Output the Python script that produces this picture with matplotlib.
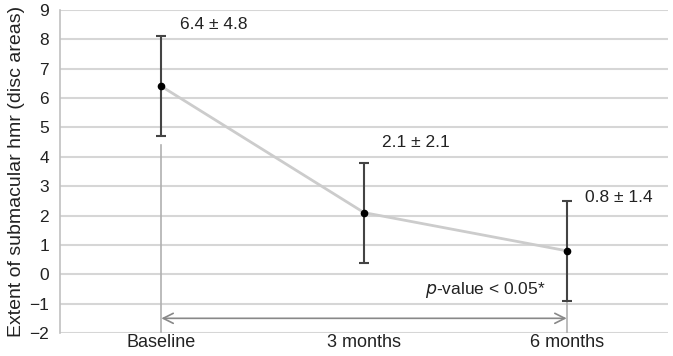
import numpy as np
import matplotlib
matplotlib.use('Agg')
import matplotlib.pyplot as plt

plt.rcParams['font.family'] = ['Liberation Sans', 'DejaVu Sans']

categories = ['Baseline', '3 months', '6 months']
means = [6.4, 2.1, 0.8]
bar_low = [4.7, 0.4, -0.9]
bar_high = [8.1, 3.8, 2.5]
labels = ['6.4 ± 4.8', '2.1 ± 2.1', '0.8 ± 1.4']
label_y = [8.5, 4.5, 2.6]

x = np.arange(len(categories))
yerr = [np.array(means) - np.array(bar_low), np.array(bar_high) - np.array(means)]

fig = plt.figure(figsize=(6.73, 3.56), dpi=100)
ax = fig.add_axes([0.0892, 0.0646, 0.9034, 0.9073])

ax.set_xlim(-0.5, 2.5)
ax.set_ylim(-2, 9)
ax.set_yticks(range(-2, 10))
ax.yaxis.grid(True, color='#d6d6d6', linewidth=1.5)
ax.set_axisbelow(True)
for s in ['top', 'right', 'bottom']:
    ax.spines[s].set_visible(False)
ax.spines['left'].set_color('#c0c0c0')
ax.spines['left'].set_linewidth(1.2)
ax.tick_params(axis='y', length=0, labelsize=12.5, colors='#222222', pad=8)
ax.tick_params(axis='x', length=0, labelsize=13, colors='#222222', pad=1)
ax.set_xticks(x)
ax.set_xticklabels(categories)

ax.plot(x, means, color='#cccccc', linewidth=2, zorder=2)
ax.errorbar(x, means, yerr=yerr, fmt='o', color='black', ms=4.5,
            ecolor='#444444', elinewidth=1.5, capsize=3.5, capthick=1.5, zorder=3)

for xi, lab, ly in zip(x, labels, label_y):
    ax.text(xi + 0.09, ly, lab, fontsize=12.5, color='#222222', va='center')

# significance bracket
ax.plot([0, 0], [4.4, -2], color='#b0b0b0', linewidth=1.2, zorder=1)
ax.plot([2, 2], [-0.9, -2], color='#b0b0b0', linewidth=1.2, zorder=1)
ax.annotate('', xy=(0, -1.5), xytext=(2, -1.5),
            arrowprops=dict(arrowstyle='<->', color='#888888', lw=1.2,
                            mutation_scale=18, shrinkA=0, shrinkB=0))
ax.text(1.6, -0.55, '$\\it{p}$-value < 0.05*', fontsize=12.5, color='#222222',
        ha='center', va='center')

ax.set_ylabel('Extent of submacular hmr (disc areas)', fontsize=14, color='#222222',
              labelpad=3)

plt.savefig('out.png', dpi=100)
plt.close()
